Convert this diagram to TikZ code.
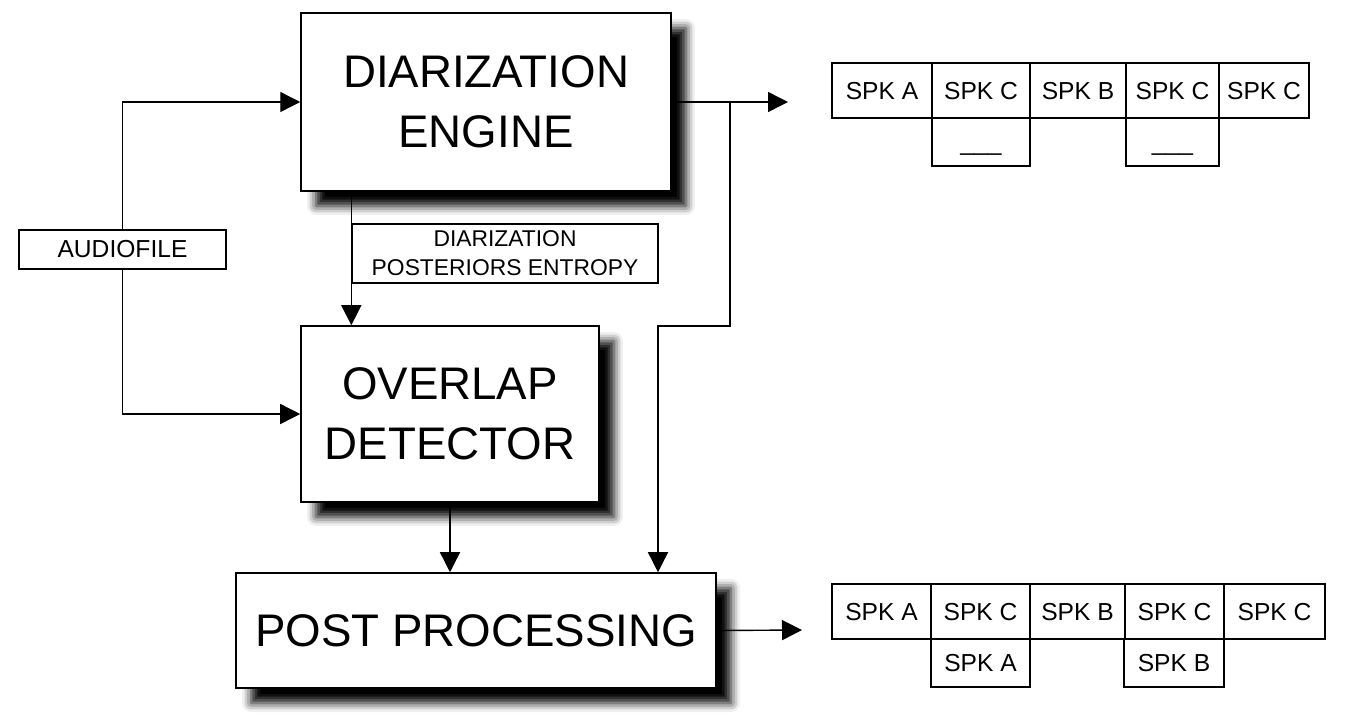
\documentclass[tikz,border=0pt]{standalone}
\usepackage{fontspec}
\setmainfont{Liberation Sans}
\usetikzlibrary{arrows.meta,shadows.blur,positioning}

\begin{document}
\begin{tikzpicture}[x=0.02cm, y=-0.02cm,
  blk/.style={draw, line width=0.9pt, fill=white, inner sep=0pt, align=center,
    font=\fontsize{26}{34}\selectfont,
    blur shadow={shadow xshift=0.3cm, shadow yshift=-0.3cm,
      shadow blur radius=0.18cm, shadow opacity=100}},
  tag/.style={draw, line width=0.8pt, fill=white, inner sep=0pt, align=center},
  cell/.style={draw, line width=0.8pt, inner sep=0pt, font=\fontsize{14}{16}\selectfont,
    text height=10.2pt, text depth=0pt},
  arr/.style={line width=0.8pt, -{Triangle[length=0.4cm,width=0.4cm]}}]
\useasboundingbox (0,0) rectangle (1362,724);
% 主框
\node[blk, minimum width=7.4cm, minimum height=3.56cm] (DE) at (486,102) {DIARIZATION\\ENGINE};
\node[blk, minimum width=5.96cm, minimum height=3.52cm] (OD) at (450,414) {OVERLAP\\DETECTOR};
\node[blk, minimum width=9.6cm, minimum height=2.3cm] (PP) at (476,630.5) {POST PROCESSING};
% 标签
\node[tag, minimum width=4.14cm, minimum height=0.78cm, font=\fontsize{14}{16}\selectfont] (AF) at (122.5,249.5) {AUDIOFILE};
\node[tag, minimum width=6.12cm, minimum height=1.18cm, font=\fontsize{13}{16.5}\selectfont] (EN) at (505,253.5) {DIARIZATION\\POSTERIORS ENTROPY};
% 上表
\node[cell, minimum width=2.0cm, minimum height=1.1cm] (T1) at (882,90.5) {SPK A};
\node[cell, minimum width=1.96cm, minimum height=1.1cm] (T2) at (981,90.5) {SPK C};
\node[cell, minimum width=1.92cm, minimum height=1.1cm] (T3) at (1078,90.5) {SPK B};
\node[cell, minimum width=1.86cm, minimum height=1.1cm] (T4) at (1172.5,90.5) {SPK C};
\node[cell, minimum width=1.8cm, minimum height=1.1cm] (T5) at (1264,90.5) {SPK C};
\node[cell, minimum width=1.96cm, minimum height=0.96cm] (T2b) at (981,142) {\_\_\_};
\node[cell, minimum width=1.86cm, minimum height=0.96cm] (T4b) at (1172.5,142) {\_\_\_};
% 下表
\node[cell, minimum width=1.98cm, minimum height=1.1cm] (B1) at (881.5,611.5) {SPK A};
\node[cell, minimum width=1.98cm, minimum height=1.1cm] (B2) at (980.5,611.5) {SPK C};
\node[cell, minimum width=1.9cm, minimum height=1.1cm] (B3) at (1077.5,611.5) {SPK B};
\node[cell, minimum width=1.98cm, minimum height=1.1cm] (B4) at (1174.5,611.5) {SPK C};
\node[cell, minimum width=2.02cm, minimum height=1.1cm] (B5) at (1274.5,611.5) {SPK C};
\node[cell, minimum width=1.98cm, minimum height=0.96cm] (B2b) at (980.5,663) {SPK A};
\node[cell, minimum width=2.0cm, minimum height=0.96cm] (B4b) at (1174,663) {SPK B};
% 连线
\coordinate (O1) at (788,102); \coordinate (O2) at (802,630);
\coordinate (S1) at (730,102); \coordinate (S2) at (658,326);
\draw[arr] (AF.north) |- (DE.west);
\draw[arr] (AF.south) |- (OD.west);
\draw[arr] (DE.south -| EN.west) -- (OD.north -| EN.west);
\draw[arr] (DE.east) -- (O1);
\draw[arr] (S1) |- (S2) -- (S2 |- PP.north);
\draw[arr] (OD.south) -- (OD.south |- PP.north);
\draw[arr] (PP.east) -- (O2);
\end{tikzpicture}
\end{document}
